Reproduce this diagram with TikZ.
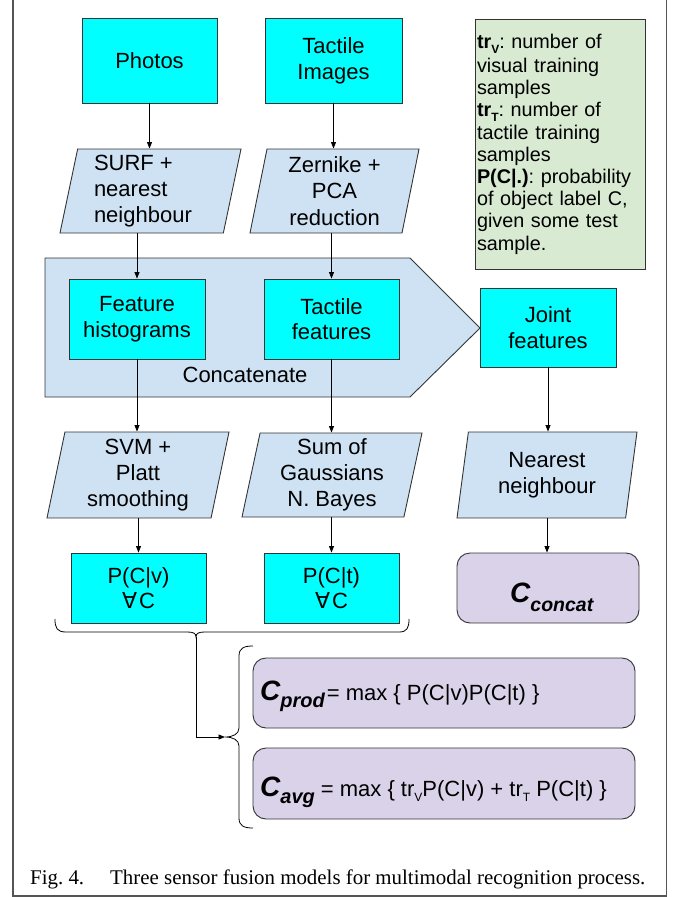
\documentclass[tikz,border=0pt]{standalone}
\usepackage{fontspec}
\setmainfont{Liberation Sans}
\newfontfamily\capfont{Liberation Serif}
\newfontfamily\symfont{DejaVu Sans}
\usetikzlibrary{shapes.geometric,arrows.meta}
\definecolor{cyanbox}{HTML}{00FFFF}
\definecolor{bluepar}{HTML}{CFE2F3}
\definecolor{greenleg}{HTML}{D9EAD3}
\definecolor{lavbox}{HTML}{D9D2E9}
\definecolor{edgec}{HTML}{333333}
\definecolor{framec}{HTML}{555555}
\newcommand\fsz[2]{\fontsize{#1}{#2}\selectfont}
\newcommand\lsub[1]{\raisebox{-5pt}[0pt][0pt]{\fsz{12}{12}#1}}
\frenchspacing
\begin{document}
\begin{tikzpicture}[x=1pt,y=-1pt,
  cbox/.style={draw=edgec, line width=0.9pt, fill=cyanbox, inner sep=0pt, align=center, font=\fsz{22}{25.7}},
  para/.style={draw=edgec, line width=0.9pt, fill=bluepar, trapezium, trapezium left angle=76.1, trapezium right angle=103.9, trapezium stretches body, inner sep=0pt, align=center, font=\fsz{22}{26.3}},
  rbox/.style={draw=edgec, line width=0.9pt, fill=lavbox, rounded corners=13pt, inner sep=0pt},
  arr/.style={draw=black, line width=0.8pt, -{Triangle[length=6.5pt,width=5pt]}},
  brace/.style={draw=black, line width=0.8pt}
]
\useasboundingbox (0,0) rectangle (681,897);
% frame
\draw[framec, line width=1.2pt] (13,0) -- (13,896) -- (666.5,896) -- (666.5,0);

% top row
\node[cbox, minimum width=135pt, minimum height=85pt] (photos) at (149.5,60.5) {Photos};
\node[cbox, minimum width=137pt, minimum height=85pt] (tactimg) at (333.5,60.5) {Tactile\\Images};

% legend
\node[draw=edgec, line width=0.9pt, fill=greenleg, minimum height=250pt, text width=166pt, inner xsep=2pt, inner ysep=0pt, align=left, font=\fsz{19.8}{22.2}] (legend) at (560,144)
 {\vspace*{2pt}\textbf{tr\lsub{V}}: number of\\visual training\\samples\\\textbf{tr\lsub{T}}: number of\\tactile training\\samples\\\textbf{P(C|.)}: probability\\of object label C,\\given some test\\sample.};

% feature extraction
\node[para, minimum width=181pt, minimum height=84pt, align=left, font=\fsz{22}{25.7}] (surf) at (150.5,191) {SURF +\\nearest\\\makebox[113pt][l]{neighbour}};
\node[para, minimum width=169pt, minimum height=84pt] (zern) at (334.5,191) {Zernike +\\PCA\\reduction};

% concatenate block
\draw[draw=edgec, line width=0.9pt, fill=bluepar] (45,258) -- (410,258) -- (480,328) coordinate (ctip) -- (410,397) -- (45,397) -- cycle;
\node[inner sep=0pt, font=\fsz{22}{25.7}] (concat) at (245,375) {Concatenate};
\node[cbox, minimum width=136pt, minimum height=80pt] (fh) at (137,319) {Feature\\histograms};
\node[cbox, minimum width=135pt, minimum height=80pt] (tf) at (331.5,319) {Tactile\\features};
\node[cbox, minimum width=136pt, minimum height=79pt] (joint) at (548,327.5) {Joint\\features};

% classifiers
\node[para, minimum width=182pt, minimum height=86pt] (svm) at (138,475) {SVM +\\Platt\\smoothing};
\node[para, minimum width=180pt, minimum height=84pt] (sum) at (332,475) {Sum of\\Gaussians\\N. Bayes};
\node[para, minimum width=180pt, minimum height=86pt] (nn) at (547,475) {Nearest\\neighbour};

% probabilities
\node[cbox, minimum width=135pt, minimum height=70pt] (pcv) at (138.5,588) {P(C|v)\\{\symfont ∀}\hspace{2pt}C};
\node[cbox, minimum width=135pt, minimum height=70pt] (pct) at (331.5,588) {P(C|t)\\{\symfont ∀}\hspace{2pt}C};
\node[rbox, minimum width=182pt, minimum height=70pt] (cconcat) at (548,588) {};
\node[inner sep=0pt, anchor=base west] (cconcatt) at (510,602) {{\fsz{28}{28}\bfseries\itshape C}\raisebox{-9pt}{\fsz{19.5}{20}\bfseries\itshape concat}};

% fusion results
\node[rbox, minimum width=382pt, minimum height=70pt] (cprod) at (444,693) {};
\node[inner sep=0pt, anchor=base west] (cprodt) at (260,700) {{\fsz{28}{28}\bfseries\itshape C}\raisebox{-7pt}{\fsz{20}{20}\bfseries\itshape prod}\hspace{2pt}{\fsz{22}{26}= max \{ P(C|v)P(C|t) \}}};
\node[rbox, minimum width=382pt, minimum height=71pt] (cavg) at (444,783.5) {};
\node[inner sep=0pt, anchor=base west] (cavgt) at (260,796) {{\fsz{28}{28}\bfseries\itshape C}\raisebox{-7pt}{\fsz{20}{20}\bfseries\itshape avg}\hspace{6pt}{\fsz{22}{26}= max \{ tr\lsub{V}P(C|v) + tr\lsub{T} P(C|t) \}}};

% connectors
\draw[arr] (photos.south) -- (photos.south |- surf.north);
\draw[arr] (tactimg.south) -- (tactimg.south |- zern.north);
\draw[arr] (fh.north |- surf.south) -- (fh.north);
\draw[arr] (tf.north |- zern.south) -- (tf.north);
\draw[arr] (fh.south) -- (fh.south |- svm.north);
\draw[arr] (tf.south) -- (tf.south |- sum.north);
\draw[arr] (pcv.north |- svm.south) -- (pcv.north);
\draw[arr] (pct.north |- sum.south) -- (pct.north);
\draw[arr] (joint.south) -- (joint.south |- nn.north);
\draw[arr] (nn.south) -- (nn.south |- cconcat.north);

% braces
\draw[brace] (55,619) .. controls (55,628) and (57,632) .. (66,632) -- (187,632) .. controls (193,632) and (196,633) .. (196,637) coordinate (btip) .. controls (196,633) and (199,632) .. (205,632) -- (399,632) .. controls (407,632) and (409,628) .. (409,619);
\draw[brace] (253,646) .. controls (244,646) and (239,648) .. (239,656) -- (239,728) .. controls (239,734) and (233,737) .. (225,737) coordinate (ltip) .. controls (233,737) and (239,740) .. (239,746) -- (239,818) .. controls (239,826) and (244,828) .. (253,828);
\draw[arr] (btip) |- (ltip);

% caption
\node[inner sep=0pt, anchor=base west, font=\capfont\fsz{20.9}{24}] (caption) at (30,884) {Fig. 4.\hspace{26pt}Three sensor fusion models for multimodal recognition process.};
\end{tikzpicture}
\end{document}
